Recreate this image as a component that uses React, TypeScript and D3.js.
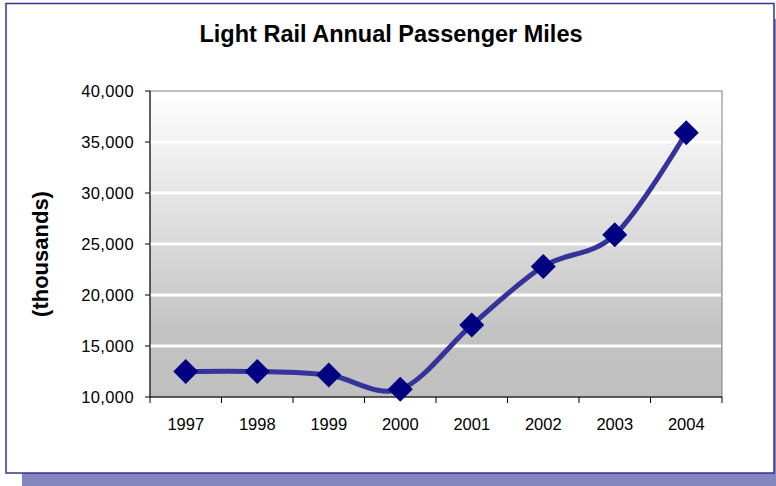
import React from "react";
import * as d3 from "d3";

const years = ["1997", "1998", "1999", "2000", "2001", "2002", "2003", "2004"];
const passengerMiles = [12500, 12500, 12150, 10750, 17050, 22800, 25900, 35900];
const yTicks = [10000, 15000, 20000, 25000, 30000, 35000, 40000];
const title = "Light Rail Annual Passenger Miles";
const yAxisTitle = "(thousands)";

const W = 776;
const H = 486;
const plot = { left: 150, right: 722, top: 91, bottom: 397 };
const font = "Arial, 'Liberation Sans', sans-serif";

export default function App() {
  const x = d3
    .scaleBand<string>()
    .domain(years)
    .range([plot.left, plot.right])
    .paddingInner(0)
    .paddingOuter(0);
  const y = d3.scaleLinear().domain([10000, 40000]).range([plot.bottom, plot.top]);

  const pts = years.map((yr, i) => [x(yr)! + x.bandwidth() / 2, y(passengerMiles[i])] as [number, number]);
  const line = d3.line().curve(d3.curveCardinal.tension(0))(pts) || "";
  const fmt = d3.format(",");
  const xTickPos = d3.range(years.length + 1).map((i) => plot.left + i * x.bandwidth());
  const r = 12.5;

  return (
    <svg
      width={W}
      height={H}
      style={{ position: "absolute", left: 0, top: 0, display: "block" }}
      fontFamily={font}
    >
      <defs>
        <linearGradient id="plotFill" x1="0" y1="0" x2="0" y2="1">
          <stop offset="0%" stopColor="#ffffff" />
          <stop offset="80%" stopColor="#c2c2c2" />
          <stop offset="100%" stopColor="#c0c0c0" />
        </linearGradient>
      </defs>
      <rect x={0} y={0} width={W} height={H} fill="#ffffff" />
      {/* drop shadow of the chart frame */}
      <rect x={22} y={19} width={760} height={480} fill="#8585c0" />
      <rect x={6} y={3.5} width={768} height={469.5} fill="#ffffff" stroke="#333399" strokeWidth={1.5} />

      <text x={391} y={42} textAnchor="middle" fontSize={23.5} fontWeight="bold" fill="#000">
        {title}
      </text>

      <rect
        x={plot.left}
        y={plot.top}
        width={plot.right - plot.left}
        height={plot.bottom - plot.top}
        fill="url(#plotFill)"
        stroke="#808080"
        strokeWidth={1}
      />
      {yTicks.slice(1, -1).map((t) => (
        <line key={t} x1={plot.left} x2={plot.right - 1} y1={y(t)} y2={y(t)} stroke="#ffffff" strokeWidth={3} />
      ))}

      {/* y axis */}
      <line x1={plot.left} x2={plot.left} y1={plot.top} y2={plot.bottom} stroke="#000" strokeWidth={1} />
      {yTicks.map((t) => (
        <g key={t}>
          <line x1={plot.left - 5} x2={plot.left} y1={y(t)} y2={y(t)} stroke="#000" />
          <text x={134} y={y(t)} dy="0.36em" textAnchor="end" fontSize={16.5} letterSpacing={0.4} fill="#000">
            {fmt(t)}
          </text>
        </g>
      ))}

      {/* x axis */}
      <line x1={plot.left} x2={plot.right} y1={plot.bottom} y2={plot.bottom} stroke="#000" strokeWidth={1} />
      {xTickPos.map((p, i) => (
        <line key={i} x1={p} x2={p} y1={plot.bottom} y2={plot.bottom + 6} stroke="#000" />
      ))}
      {years.map((yr) => (
        <text key={yr} x={x(yr)! + x.bandwidth() / 2} y={430} textAnchor="middle" fontSize={16.5} fill="#000">
          {yr}
        </text>
      ))}

      <text
        transform={`translate(48, ${254}) rotate(-90)`}
        textAnchor="middle"
        fontSize={22}
        fontWeight="bold"
        fill="#000"
      >
        {yAxisTitle}
      </text>

      <path d={line} fill="none" stroke="#333399" strokeWidth={5} strokeLinejoin="round" />
      {pts.map(([px, py], i) => (
        <path
          key={i}
          d={`M${px},${py - r}L${px + r},${py}L${px},${py + r}L${px - r},${py}Z`}
          fill="#000080"
        />
      ))}
    </svg>
  );
}
